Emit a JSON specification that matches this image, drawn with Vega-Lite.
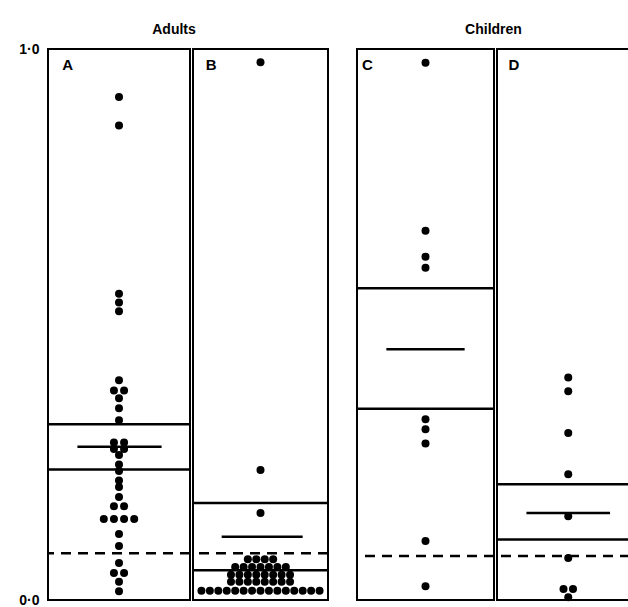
{
  "$schema": "https://vega.github.io/schema/vega-lite/v6.json",
  "padding": {"left": 17, "top": 23, "right": 0, "bottom": 0},
  "background": "white",
  "config": {
    "view": {"stroke": "black", "strokeWidth": 2},
    "font": "Liberation Sans",
    "title": {"fontSize": 14, "fontWeight": "bold", "offset": 12, "color": "black", "anchor": "middle"}
  },
  "datasets": {
    "dots": [
      {"panel": "A", "value": 0.913}, {"panel": "A", "value": 0.861}, {"panel": "A", "value": 0.556},
      {"panel": "A", "value": 0.540}, {"panel": "A", "value": 0.524}, {"panel": "A", "value": 0.399},
      {"panel": "A", "value": 0.38}, {"panel": "A", "value": 0.38}, {"panel": "A", "value": 0.366},
      {"panel": "A", "value": 0.348}, {"panel": "A", "value": 0.326}, {"panel": "A", "value": 0.286},
      {"panel": "A", "value": 0.286}, {"panel": "A", "value": 0.274}, {"panel": "A", "value": 0.274},
      {"panel": "A", "value": 0.263}, {"panel": "A", "value": 0.246}, {"panel": "A", "value": 0.234},
      {"panel": "A", "value": 0.217}, {"panel": "A", "value": 0.205}, {"panel": "A", "value": 0.187},
      {"panel": "A", "value": 0.170}, {"panel": "A", "value": 0.170}, {"panel": "A", "value": 0.147},
      {"panel": "A", "value": 0.147}, {"panel": "A", "value": 0.147}, {"panel": "A", "value": 0.147},
      {"panel": "A", "value": 0.120}, {"panel": "A", "value": 0.098}, {"panel": "A", "value": 0.067},
      {"panel": "A", "value": 0.049}, {"panel": "A", "value": 0.049}, {"panel": "A", "value": 0.033},
      {"panel": "A", "value": 0.016},
      {"panel": "B", "value": 0.976}, {"panel": "B", "value": 0.236}, {"panel": "B", "value": 0.158},
      {"panel": "B", "value": 0.074}, {"panel": "B", "value": 0.074}, {"panel": "B", "value": 0.074}, {"panel": "B", "value": 0.074},
      {"panel": "B", "value": 0.060}, {"panel": "B", "value": 0.060}, {"panel": "B", "value": 0.060}, {"panel": "B", "value": 0.060},
      {"panel": "B", "value": 0.060}, {"panel": "B", "value": 0.060}, {"panel": "B", "value": 0.060},
      {"panel": "B", "value": 0.046}, {"panel": "B", "value": 0.046}, {"panel": "B", "value": 0.046}, {"panel": "B", "value": 0.046},
      {"panel": "B", "value": 0.046}, {"panel": "B", "value": 0.046}, {"panel": "B", "value": 0.046}, {"panel": "B", "value": 0.046},
      {"panel": "B", "value": 0.033}, {"panel": "B", "value": 0.033}, {"panel": "B", "value": 0.033}, {"panel": "B", "value": 0.033},
      {"panel": "B", "value": 0.033}, {"panel": "B", "value": 0.033}, {"panel": "B", "value": 0.033}, {"panel": "B", "value": 0.033},
      {"panel": "B", "value": 0.017}, {"panel": "B", "value": 0.017}, {"panel": "B", "value": 0.017}, {"panel": "B", "value": 0.017},
      {"panel": "B", "value": 0.017}, {"panel": "B", "value": 0.017}, {"panel": "B", "value": 0.017}, {"panel": "B", "value": 0.017},
      {"panel": "B", "value": 0.017}, {"panel": "B", "value": 0.017}, {"panel": "B", "value": 0.017}, {"panel": "B", "value": 0.017},
      {"panel": "B", "value": 0.017}, {"panel": "B", "value": 0.017}, {"panel": "B", "value": 0.017},
      {"panel": "C", "value": 0.975}, {"panel": "C", "value": 0.670}, {"panel": "C", "value": 0.623},
      {"panel": "C", "value": 0.603}, {"panel": "C", "value": 0.328}, {"panel": "C", "value": 0.310},
      {"panel": "C", "value": 0.284}, {"panel": "C", "value": 0.107}, {"panel": "C", "value": 0.025},
      {"panel": "D", "value": 0.404}, {"panel": "D", "value": 0.379}, {"panel": "D", "value": 0.303},
      {"panel": "D", "value": 0.228}, {"panel": "D", "value": 0.152}, {"panel": "D", "value": 0.076},
      {"panel": "D", "value": 0.02}, {"panel": "D", "value": 0.02}, {"panel": "D", "value": 0.005}
    ],
    "stats": [
      {"panel": "A", "upper": 0.319, "mean": 0.278, "lower": 0.237, "ref": 0.085},
      {"panel": "B", "upper": 0.176, "mean": 0.115, "lower": 0.054, "ref": 0.085},
      {"panel": "C", "upper": 0.566, "mean": 0.455, "lower": 0.347, "ref": 0.08},
      {"panel": "D", "upper": 0.21, "mean": 0.158, "lower": 0.11, "ref": 0.08}
    ]
  },
  "spacing": 23,
  "hconcat": [
    {
      "title": {"text": "Adults", "offset": 4},
      "spacing": -6,
      "hconcat": [
        {
          "width": 142, "height": 551,
          "layer": [
            {
              "data": {"name": "dots"},
              "transform": [
                {"filter": "datum.panel === 'A'"},
                {"window": [{"op": "row_number", "as": "rn"}, {"op": "count", "as": "cnt"}], "groupby": ["value"], "frame": [null, null]},
                {"calculate": "datum.rn - (datum.cnt + 1) / 2", "as": "off"}
              ],
              "mark": {"type": "circle", "size": 64, "color": "black", "opacity": 1},
              "encoding": {
                "x": {"field": "off", "type": "quantitative", "scale": {"domain": [-7, 7], "nice": false, "zero": false}, "axis": null},
                "y": {"field": "value", "type": "quantitative", "scale": {"domain": [0, 1], "nice": false, "zero": false},
                  "axis": {"values": [0, 1], "labelExpr": "datum.value == 0 ? '0·0' : '1·0'", "ticks": false, "domain": false, "grid": false,
                    "labelFontSize": 14, "labelFontWeight": "bold", "labelPadding": 9, "labelColor": "black", "title": null, "minExtent": 0, "labelFlush": false}}
              }
            },
            {
              "data": {"name": "stats"},
              "transform": [{"filter": "datum.panel === 'A'"}],
              "mark": {"type": "rule", "color": "black", "strokeWidth": 2.5},
              "encoding": {"y": {"field": "upper", "type": "quantitative", "scale": {"domain": [0, 1], "nice": false, "zero": false},
                  "axis": {"values": [0, 1], "labelExpr": "datum.value == 0 ? '0·0' : '1·0'", "ticks": false, "domain": false, "grid": false,
                    "labelFontSize": 14, "labelFontWeight": "bold", "labelPadding": 9, "labelColor": "black", "title": null, "minExtent": 0, "labelFlush": false}}}
            },
            {
              "data": {"name": "stats"},
              "transform": [{"filter": "datum.panel === 'A'"}],
              "mark": {"type": "rule", "color": "black", "strokeWidth": 2.5},
              "encoding": {"y": {"field": "lower", "type": "quantitative", "scale": {"domain": [0, 1], "nice": false, "zero": false},
                  "axis": {"values": [0, 1], "labelExpr": "datum.value == 0 ? '0·0' : '1·0'", "ticks": false, "domain": false, "grid": false,
                    "labelFontSize": 14, "labelFontWeight": "bold", "labelPadding": 9, "labelColor": "black", "title": null, "minExtent": 0, "labelFlush": false}}}
            },
            {
              "data": {"name": "stats"},
              "transform": [{"filter": "datum.panel === 'A'"}],
              "mark": {"type": "rule", "color": "black", "strokeWidth": 2.5, "strokeDash": [10, 7]},
              "encoding": {"y": {"field": "ref", "type": "quantitative", "scale": {"domain": [0, 1], "nice": false, "zero": false},
                  "axis": {"values": [0, 1], "labelExpr": "datum.value == 0 ? '0·0' : '1·0'", "ticks": false, "domain": false, "grid": false,
                    "labelFontSize": 14, "labelFontWeight": "bold", "labelPadding": 9, "labelColor": "black", "title": null, "minExtent": 0, "labelFlush": false}}}
            },
            {
              "data": {"name": "stats"},
              "transform": [{"filter": "datum.panel === 'A'"}],
              "mark": {"type": "rule", "color": "black", "strokeWidth": 2.5},
              "encoding": {
                "y": {"field": "mean", "type": "quantitative", "scale": {"domain": [0, 1], "nice": false, "zero": false},
                  "axis": {"values": [0, 1], "labelExpr": "datum.value == 0 ? '0·0' : '1·0'", "ticks": false, "domain": false, "grid": false,
                    "labelFontSize": 14, "labelFontWeight": "bold", "labelPadding": 9, "labelColor": "black", "title": null, "minExtent": 0, "labelFlush": false}},
                "x": {"datum": -4.1, "type": "quantitative", "scale": {"domain": [-7, 7], "nice": false, "zero": false}, "axis": null},
                "x2": {"datum": 4.2}
              }
            },
            {
              "data": {"name": "stats"},
              "transform": [{"filter": "datum.panel === 'A'"}],
              "mark": {"type": "text", "text": "A", "fontSize": 15, "fontWeight": "bold", "align": "left", "baseline": "middle", "color": "black"},
              "encoding": {
                "x": {"datum": -5.6, "type": "quantitative", "scale": {"domain": [-7, 7], "nice": false, "zero": false}, "axis": null},
                "y": {"datum": 0.971, "type": "quantitative", "scale": {"domain": [0, 1], "nice": false, "zero": false},
                  "axis": {"values": [0, 1], "labelExpr": "datum.value == 0 ? '0·0' : '1·0'", "ticks": false, "domain": false, "grid": false,
                    "labelFontSize": 14, "labelFontWeight": "bold", "labelPadding": 9, "labelColor": "black", "title": null, "minExtent": 0, "labelFlush": false}}
              }
            }
          ]
        },
        {
          "width": 135, "height": 551,
          "layer": [
            {
              "data": {"name": "dots"},
              "transform": [
                {"filter": "datum.panel === 'B'"},
                {"window": [{"op": "row_number", "as": "rn"}, {"op": "count", "as": "cnt"}], "groupby": ["value"], "frame": [null, null]},
                {"calculate": "datum.rn - (datum.cnt + 1) / 2", "as": "off"}
              ],
              "mark": {"type": "circle", "size": 64, "color": "black", "opacity": 1},
              "encoding": {
                "x": {"field": "off", "type": "quantitative", "scale": {"domain": [-8, 8], "nice": false, "zero": false}, "axis": null},
                "y": {"field": "value", "type": "quantitative", "scale": {"domain": [0, 1], "nice": false, "zero": false}, "axis": null}
              }
            },
            {
              "data": {"name": "stats"},
              "transform": [{"filter": "datum.panel === 'B'"}],
              "layer": [
                {"mark": {"type": "rule", "color": "black", "strokeWidth": 2.5}, "encoding": {"y": {"field": "upper", "type": "quantitative", "axis": null}}},
                {"mark": {"type": "rule", "color": "black", "strokeWidth": 2.5}, "encoding": {"y": {"field": "lower", "type": "quantitative", "axis": null}}},
                {"mark": {"type": "rule", "color": "black", "strokeWidth": 2.5, "strokeDash": [10, 7]}, "encoding": {"y": {"field": "ref", "type": "quantitative", "axis": null}}},
                {"mark": {"type": "rule", "color": "black", "strokeWidth": 2.5}, "encoding": {
                  "y": {"field": "mean", "type": "quantitative", "axis": null},
                  "x": {"datum": -4.6, "type": "quantitative", "scale": {"domain": [-8, 8], "nice": false, "zero": false}},
                  "x2": {"datum": 5.0}}},
                {"mark": {"type": "text", "text": "B", "fontSize": 15, "fontWeight": "bold", "align": "left", "baseline": "middle", "color": "black"},
                  "encoding": {"x": {"datum": -6.5, "type": "quantitative"}, "y": {"datum": 0.971, "type": "quantitative"}}}
              ]
            }
          ]
        }
      ]
    },
    {
      "title": {"text": "Children", "offset": 11},
      "spacing": -6,
      "hconcat": [
        {
          "width": 137, "height": 551,
          "layer": [
            {
              "data": {"name": "dots"},
              "transform": [
                {"filter": "datum.panel === 'C'"},
                {"window": [{"op": "row_number", "as": "rn"}, {"op": "count", "as": "cnt"}], "groupby": ["value"], "frame": [null, null]},
                {"calculate": "datum.rn - (datum.cnt + 1) / 2", "as": "off"}
              ],
              "mark": {"type": "circle", "size": 64, "color": "black", "opacity": 1},
              "encoding": {
                "x": {"field": "off", "type": "quantitative", "scale": {"domain": [-7, 7], "nice": false, "zero": false}, "axis": null},
                "y": {"field": "value", "type": "quantitative", "scale": {"domain": [0, 1], "nice": false, "zero": false}, "axis": null}
              }
            },
            {
              "data": {"name": "stats"},
              "transform": [{"filter": "datum.panel === 'C'"}],
              "layer": [
                {"mark": {"type": "rule", "color": "black", "strokeWidth": 2.5}, "encoding": {"y": {"field": "upper", "type": "quantitative", "axis": null}}},
                {"mark": {"type": "rule", "color": "black", "strokeWidth": 2.5}, "encoding": {"y": {"field": "lower", "type": "quantitative", "axis": null}}},
                {"mark": {"type": "rule", "color": "black", "strokeWidth": 2.5, "strokeDash": [10, 7]}, "encoding": {"y": {"field": "ref", "type": "quantitative", "axis": null}}},
                {"mark": {"type": "rule", "color": "black", "strokeWidth": 2.5}, "encoding": {
                  "y": {"field": "mean", "type": "quantitative", "axis": null},
                  "x": {"datum": -4.0, "type": "quantitative", "scale": {"domain": [-7, 7], "nice": false, "zero": false}},
                  "x2": {"datum": 4.0}}},
                {"mark": {"type": "text", "text": "C", "fontSize": 15, "fontWeight": "bold", "align": "left", "baseline": "middle", "color": "black"},
                  "encoding": {"x": {"datum": -6.5, "type": "quantitative"}, "y": {"datum": 0.971, "type": "quantitative"}}}
              ]
            }
          ]
        },
        {
          "width": 133, "height": 551,
          "layer": [
            {
              "data": {"name": "dots"},
              "transform": [
                {"filter": "datum.panel === 'D'"},
                {"window": [{"op": "row_number", "as": "rn"}, {"op": "count", "as": "cnt"}], "groupby": ["value"], "frame": [null, null]},
                {"calculate": "datum.rn - (datum.cnt + 1) / 2", "as": "off"}
              ],
              "mark": {"type": "circle", "size": 64, "color": "black", "opacity": 1},
              "encoding": {
                "x": {"field": "off", "type": "quantitative", "scale": {"domain": [-7.5, 6.5], "nice": false, "zero": false}, "axis": null},
                "y": {"field": "value", "type": "quantitative", "scale": {"domain": [0, 1], "nice": false, "zero": false}, "axis": null}
              }
            },
            {
              "data": {"name": "stats"},
              "transform": [{"filter": "datum.panel === 'D'"}],
              "layer": [
                {"mark": {"type": "rule", "color": "black", "strokeWidth": 2.5}, "encoding": {"y": {"field": "upper", "type": "quantitative", "axis": null}}},
                {"mark": {"type": "rule", "color": "black", "strokeWidth": 2.5}, "encoding": {"y": {"field": "lower", "type": "quantitative", "axis": null}}},
                {"mark": {"type": "rule", "color": "black", "strokeWidth": 2.5, "strokeDash": [10, 7]}, "encoding": {"y": {"field": "ref", "type": "quantitative", "axis": null}}},
                {"mark": {"type": "rule", "color": "black", "strokeWidth": 2.5}, "encoding": {
                  "y": {"field": "mean", "type": "quantitative", "axis": null},
                  "x": {"datum": -4.4, "type": "quantitative", "scale": {"domain": [-7.5, 6.5], "nice": false, "zero": false}},
                  "x2": {"datum": 4.4}}},
                {"mark": {"type": "text", "text": "D", "fontSize": 15, "fontWeight": "bold", "align": "left", "baseline": "middle", "color": "black"},
                  "encoding": {"x": {"datum": -6.3, "type": "quantitative"}, "y": {"datum": 0.971, "type": "quantitative"}}}
              ]
            }
          ]
        }
      ]
    }
  ]
}
